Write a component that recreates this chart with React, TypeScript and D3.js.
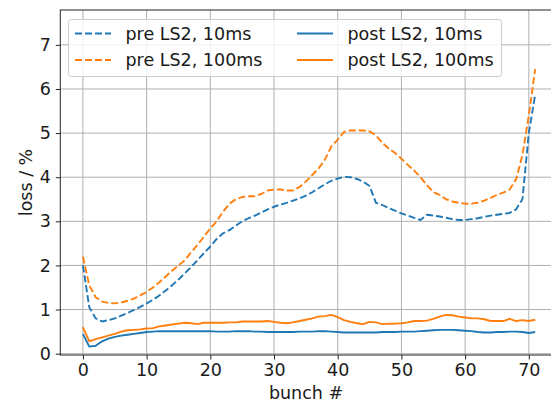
import { useEffect, useRef } from 'react';
import * as d3 from 'd3';

const bunches = d3.range(0, 72);

const preLS2_10ms = [
  2.0, 1.05, 0.8, 0.73, 0.76, 0.8, 0.86, 0.92, 0.99, 1.06,
  1.14, 1.22, 1.32, 1.43, 1.55, 1.68, 1.82, 1.97, 2.12, 2.28,
  2.43, 2.6, 2.73, 2.8, 2.9, 3.0, 3.07, 3.13, 3.2, 3.27,
  3.33, 3.38, 3.42, 3.47, 3.52, 3.58, 3.66, 3.75, 3.84, 3.92,
  3.97, 4.01, 4.0, 3.96, 3.9, 3.8, 3.42, 3.37, 3.3, 3.24,
  3.18, 3.13, 3.08, 3.03, 3.15, 3.13, 3.11, 3.08, 3.05, 3.03,
  3.03, 3.05, 3.07, 3.1, 3.13, 3.15, 3.17, 3.19, 3.27, 3.5,
  5.0, 5.87,
];

const preLS2_100ms = [
  2.2, 1.55, 1.28, 1.18, 1.15, 1.14, 1.16, 1.2, 1.25, 1.32,
  1.4, 1.5, 1.62, 1.75, 1.88, 2.0, 2.12, 2.3, 2.47, 2.65,
  2.84, 3.0, 3.22, 3.4, 3.5, 3.55, 3.57, 3.57, 3.62, 3.7,
  3.72, 3.72, 3.7, 3.7, 3.78, 3.9, 4.05, 4.2, 4.4, 4.7,
  4.85, 5.03, 5.06, 5.06, 5.06, 5.04, 4.95, 4.78, 4.65, 4.55,
  4.42, 4.28, 4.15, 4.0, 3.82, 3.66, 3.6, 3.5, 3.45, 3.42,
  3.4, 3.4, 3.42, 3.47, 3.53, 3.6, 3.65, 3.72, 3.95, 4.5,
  5.4, 6.45,
];

const postLS2_10ms = [
  0.45, 0.16, 0.18, 0.28, 0.34, 0.38, 0.41, 0.43, 0.45, 0.47,
  0.49, 0.5, 0.51, 0.51, 0.51, 0.51, 0.51, 0.51, 0.51, 0.51,
  0.51, 0.5, 0.5, 0.5, 0.51, 0.51, 0.51, 0.5, 0.5, 0.49,
  0.49, 0.49, 0.49, 0.49, 0.5, 0.5, 0.5, 0.51, 0.51, 0.5,
  0.49, 0.48, 0.48, 0.48, 0.48, 0.48, 0.48, 0.49, 0.49, 0.49,
  0.5, 0.5, 0.5, 0.51, 0.52, 0.53, 0.54, 0.54, 0.54, 0.53,
  0.52, 0.51, 0.49, 0.48, 0.48, 0.49, 0.49, 0.5, 0.5, 0.49,
  0.47, 0.49,
];

const postLS2_100ms = [
  0.6, 0.28, 0.33, 0.37, 0.41, 0.45, 0.5, 0.53, 0.54, 0.55,
  0.57, 0.58, 0.62, 0.64, 0.66, 0.68, 0.7, 0.69, 0.67, 0.7,
  0.7, 0.7, 0.7, 0.71, 0.71, 0.73, 0.73, 0.73, 0.73, 0.74,
  0.72, 0.7, 0.69, 0.71, 0.74, 0.77, 0.8, 0.84, 0.85, 0.88,
  0.83, 0.76, 0.72, 0.69, 0.67, 0.72, 0.71, 0.67, 0.68, 0.68,
  0.69, 0.71, 0.74, 0.74, 0.75, 0.79, 0.84, 0.88, 0.87, 0.84,
  0.82, 0.8, 0.8, 0.78, 0.74, 0.74, 0.74, 0.79, 0.74, 0.76,
  0.74, 0.77,
];

const xTicks = [0, 10, 20, 30, 40, 50, 60, 70];
const yTicks = [0, 1, 2, 3, 4, 5, 6, 7];

const series = [
  { label: 'pre LS2, 10ms', values: preLS2_10ms, color: '#1f77b4', dashed: true },
  { label: 'pre LS2, 100ms', values: preLS2_100ms, color: '#ff7f0e', dashed: true },
  { label: 'post LS2, 10ms', values: postLS2_10ms, color: '#1f77b4', dashed: false },
  { label: 'post LS2, 100ms', values: postLS2_100ms, color: '#ff7f0e', dashed: false },
];

const FONT = '"DejaVu Sans", sans-serif';
const FS = 17.5;

export default function App() {
  const svgRef = useRef<SVGSVGElement>(null);

  useEffect(() => {
    const svg = d3.select(svgRef.current);
    svg.selectAll('*').remove();

    const W = 551, H = 403;
    const left = 60.3, top = 10, bottom = 355;

    const x = d3.scaleLinear().domain([-3.55, 74.55]).range([left, left + 78.1 * 6.37]);
    const y = d3.scaleLinear().domain([-0.03, 7.79]).range([bottom, top]);
    const right = x(74.55);

    svg.attr('width', W).attr('height', H).attr('viewBox', `0 0 ${W} ${H}`);

    svg.append('rect').attr('width', W).attr('height', H).attr('fill', 'white');

    // grid
    const grid = svg.append('g');
    xTicks.forEach(v => {
      grid.append('line')
        .attr('x1', x(v)).attr('x2', x(v))
        .attr('y1', top).attr('y2', bottom)
        .attr('stroke', '#b0b0b0').attr('stroke-width', 1);
    });
    yTicks.forEach(v => {
      grid.append('line')
        .attr('x1', left).attr('x2', right)
        .attr('y1', y(v)).attr('y2', y(v))
        .attr('stroke', '#b0b0b0').attr('stroke-width', 1);
    });

    // lines
    const line = d3.line<number>()
      .x((_, i) => x(bunches[i]))
      .y(d => y(d));

    series.forEach(s => {
      svg.append('path')
        .datum(s.values)
        .attr('d', line)
        .attr('fill', 'none')
        .attr('stroke', s.color)
        .attr('stroke-width', 1.9)
        .attr('stroke-linejoin', 'round')
        .attr('stroke-dasharray', s.dashed ? '7,3' : null);
    });

    // spines
    svg.append('rect')
      .attr('x', left).attr('y', top)
      .attr('width', right - left).attr('height', bottom - top)
      .attr('fill', 'none').attr('stroke', '#222').attr('stroke-width', 1);

    // axes
    const xAxis = d3.axisBottom(x).tickValues(xTicks).tickSize(4.5).tickPadding(4);
    svg.append('g')
      .attr('transform', `translate(0,${bottom})`)
      .call(xAxis)
      .call(ax => ax.select('.domain').remove())
      .call(ax => ax.selectAll('line').attr('stroke', '#222'))
      .call(ax => ax.selectAll('text').attr('font-size', FS).attr('font-family', FONT).attr('fill', '#1a1a1a'));

    const yAxis = d3.axisLeft(y).tickValues(yTicks).tickSize(4.5).tickPadding(5);
    svg.append('g')
      .attr('transform', `translate(${left},0)`)
      .call(yAxis)
      .call(ax => ax.select('.domain').remove())
      .call(ax => ax.selectAll('line').attr('stroke', '#222'))
      .call(ax => ax.selectAll('text').attr('font-size', FS).attr('font-family', FONT).attr('fill', '#1a1a1a'));

    // axis labels
    svg.append('text')
      .attr('x', (left + right) / 2 - 3).attr('y', 399)
      .attr('text-anchor', 'middle')
      .attr('font-size', FS).attr('font-family', FONT).attr('fill', '#1a1a1a')
      .text('bunch #');

    svg.append('text')
      .attr('transform', `translate(32,${(top + bottom) / 2}) rotate(-90)`)
      .attr('text-anchor', 'middle')
      .attr('font-size', FS).attr('font-family', FONT).attr('fill', '#1a1a1a')
      .text('loss / %');

    // legend
    const lg = svg.append('g');
    lg.append('rect')
      .attr('x', 68.5).attr('y', 19.5)
      .attr('width', 433).attr('height', 57)
      .attr('rx', 3)
      .attr('fill', 'white').attr('fill-opacity', 0.8)
      .attr('stroke', '#cccccc').attr('stroke-width', 1);

    const cols = [75, 297];
    series.forEach((s, i) => {
      const col = Math.floor(i / 2);
      const row = i % 2;
      const hx = cols[col];
      const hy = 33.5 + row * 26.5;
      lg.append('line')
        .attr('x1', hx).attr('x2', hx + 36)
        .attr('y1', hy).attr('y2', hy)
        .attr('stroke', s.color).attr('stroke-width', 1.9)
        .attr('stroke-dasharray', s.dashed ? '7,3' : null);
      lg.append('text')
        .attr('x', hx + 50.5).attr('y', hy + 6.2)
        .attr('font-size', FS).attr('font-family', FONT).attr('fill', '#1a1a1a')
        .text(s.label);
    });
  }, []);

  return (
    <svg
      ref={svgRef}
      style={{ position: 'absolute', left: 0, top: 0, display: 'block' }}
      role="img"
      aria-label="loss vs bunch number"
    />
  );
}
